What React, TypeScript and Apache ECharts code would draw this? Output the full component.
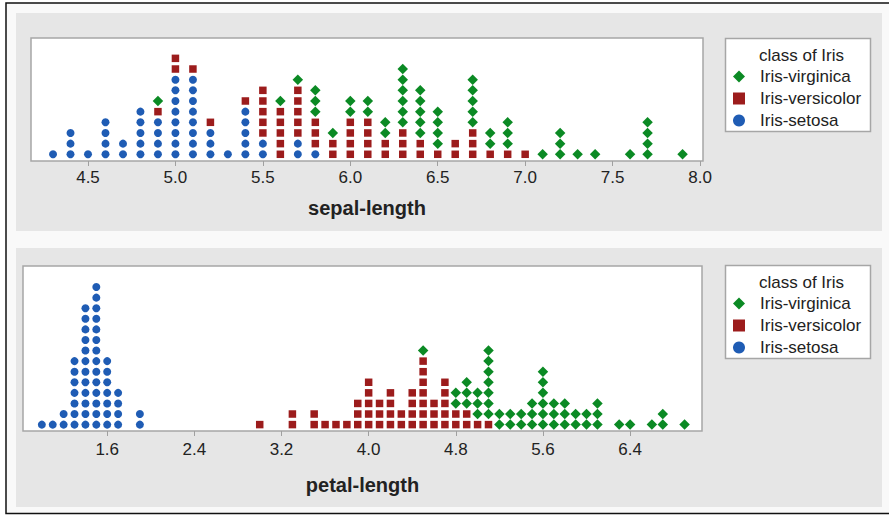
import React, { useEffect, useRef } from "react";
import * as echarts from "echarts";

// ---- data: Iris dot plots (value, count) per class ----
const classNames = ["Iris-setosa", "Iris-versicolor", "Iris-virginica"];
const legendOrder = ["Iris-virginica", "Iris-versicolor", "Iris-setosa"];
const legendTitle = "class of Iris";

const sepalSetosaX = [4.3, 4.4, 4.5, 4.6, 4.7, 4.8, 4.9, 5.0, 5.1, 5.2, 5.3, 5.4, 5.5, 5.7, 5.8];
const sepalSetosaN = [1, 3, 1, 4, 2, 5, 4, 8, 8, 3, 1, 5, 2, 2, 1];
const sepalVersicolorX = [4.9, 5.0, 5.1, 5.2, 5.4, 5.5, 5.6, 5.7, 5.8, 5.9, 6.0, 6.1, 6.2, 6.3, 6.4, 6.5, 6.6, 6.7, 6.8, 6.9, 7.0];
const sepalVersicolorN = [1, 2, 1, 1, 1, 5, 5, 5, 3, 2, 4, 4, 2, 3, 2, 1, 2, 3, 1, 1, 1];
const sepalVirginicaX = [4.9, 5.6, 5.7, 5.8, 5.9, 6.0, 6.1, 6.2, 6.3, 6.4, 6.5, 6.7, 6.8, 6.9, 7.1, 7.2, 7.3, 7.4, 7.6, 7.7, 7.9];
const sepalVirginicaN = [1, 1, 1, 3, 1, 2, 2, 2, 6, 5, 4, 5, 2, 3, 1, 3, 1, 1, 1, 4, 1];

const petalSetosaX = [1.0, 1.1, 1.2, 1.3, 1.4, 1.5, 1.6, 1.7, 1.9];
const petalSetosaN = [1, 1, 2, 7, 12, 14, 7, 4, 2];
const petalVersicolorX = [3.0, 3.3, 3.5, 3.6, 3.7, 3.8, 3.9, 4.0, 4.1, 4.2, 4.3, 4.4, 4.5, 4.6, 4.7, 4.8, 4.9, 5.0, 5.1];
const petalVersicolorN = [1, 2, 2, 1, 1, 1, 3, 5, 3, 4, 2, 4, 7, 3, 5, 2, 2, 1, 1];
const petalVirginicaX = [4.5, 4.8, 4.9, 5.0, 5.1, 5.2, 5.3, 5.4, 5.5, 5.6, 5.7, 5.8, 5.9, 6.0, 6.1, 6.3, 6.4, 6.6, 6.7, 6.9];
const petalVirginicaN = [1, 2, 3, 3, 7, 2, 2, 2, 3, 6, 3, 3, 2, 2, 3, 1, 1, 1, 2, 1];

const sepalTicks = [4.5, 5.0, 5.5, 6.0, 6.5, 7.0, 7.5, 8.0];
const petalTicks = [1.6, 2.4, 3.2, 4.0, 4.8, 5.6, 6.4];
const sepalName = "sepal-length";
const petalName = "petal-length";

const colors: Record<string, string> = {
  "Iris-setosa": "#1f5cb4",
  "Iris-versicolor": "#9c1c1c",
  "Iris-virginica": "#0b8a24",
};
const symbols: Record<string, string> = {
  "Iris-setosa": "circle",
  "Iris-versicolor": "rect",
  "Iris-virginica": "diamond",
};
const sizes: Record<string, number> = {
  "Iris-setosa": 8,
  "Iris-versicolor": 7.5,
  "Iris-virginica": 10.5,
};

const FONT = '"Liberation Sans", Arial, Helvetica, sans-serif';

function stackDots(groups: { xs: number[]; ns: number[] }[]) {
  const heights: Record<string, number> = {};
  return groups.map((g) => {
    const pts: number[][] = [];
    g.xs.forEach((x, i) => {
      const key = x.toFixed(1);
      for (let j = 0; j < g.ns[i]; j++) {
        heights[key] = (heights[key] || 0) + 1;
        pts.push([x, heights[key]]);
      }
    });
    return pts;
  });
}

export default function App() {
  const ref = useRef<HTMLDivElement>(null);
  useEffect(() => {
    if (!ref.current) return;
    const chart = echarts.init(ref.current, null, { renderer: "svg" });
    const sepalPts = stackDots([
      { xs: sepalSetosaX, ns: sepalSetosaN },
      { xs: sepalVersicolorX, ns: sepalVersicolorN },
      { xs: sepalVirginicaX, ns: sepalVirginicaN },
    ]);
    const petalPts = stackDots([
      { xs: petalSetosaX, ns: petalSetosaN },
      { xs: petalVersicolorX, ns: petalVersicolorN },
      { xs: petalVirginicaX, ns: petalVirginicaN },
    ]);

    const series: any[] = [];
    [sepalPts, petalPts].forEach((panel, p) => {
      panel.forEach((pts, c) => {
        const name = classNames[c];
        series.push({
          type: "scatter",
          name,
          xAxisIndex: p,
          yAxisIndex: p,
          data: pts,
          symbol: symbols[name],
          symbolSize: sizes[name],
          itemStyle: { color: colors[name], opacity: 1 },
          silent: true,
          emphasis: { disabled: true },
        });
      });
    });

    const axisCommon = (ticks: number[], name: string, gap: number, labelMargin: number) => ({
      type: "value",
      name,
      nameLocation: "middle",
      nameGap: gap,
      nameTextStyle: { fontFamily: FONT, fontWeight: "bold", fontSize: 20, color: "#222" },
      splitLine: { show: false },
      axisLine: { show: false },
      axisTick: {
        show: true,
        customValues: ticks,
        length: 5,
        lineStyle: { color: "#a0a0a0", width: 1 },
      },
      axisLabel: {
        customValues: ticks,
        formatter: (v: number) => v.toFixed(1),
        fontFamily: FONT,
        fontSize: 17,
        color: "#222",
        margin: labelMargin,
      },
    });

    const legendFor = (top: number) => ({
      orient: "vertical",
      left: 733,
      top,
      padding: 0,
      itemGap: 1,
      itemWidth: 12,
      itemHeight: 12,
      selectedMode: false,
      textStyle: {
        fontFamily: FONT,
        fontSize: 17,
        color: "#222",
        lineHeight: 21,
        padding: [0, 0, 0, 10],
      },
      data: legendOrder.map((n) => ({ name: n, icon: symbols[n] })),
    });

    const legendBox = (top: number) => [
      {
        type: "rect",
        shape: { x: 725.5, y: top + 0.5, width: 145, height: 93 },
        style: { fill: "#ffffff", stroke: "#a6a6a6", lineWidth: 1.5 },
        z: 0,
      },
      {
        type: "text",
        x: 759,
        y: top + 17,
        style: {
          text: legendTitle,
          fontFamily: FONT,
          fontSize: 17,
          fill: "#222",
          verticalAlign: "middle",
        },
        z: 1,
      },
    ];

    chart.setOption({
      animation: false,
      backgroundColor: "#ffffff",
      graphic: [
        {
          type: "rect",
          shape: { x: 6, y: 3, width: 890, height: 510.5 },
          style: { fill: "#f9f9f9", stroke: "#111", lineWidth: 1.5 },
          z: -10,
          silent: true,
        },
        {
          type: "rect",
          shape: { x: 16, y: 13, width: 866, height: 218 },
          style: { fill: "#e6e6e6" },
          z: -9,
          silent: true,
        },
        {
          type: "rect",
          shape: { x: 16, y: 248, width: 866, height: 259 },
          style: { fill: "#e6e6e6" },
          z: -9,
          silent: true,
        },
        ...legendBox(38),
        ...legendBox(265),
      ],
      grid: [
        {
          left: 31,
          top: 38,
          width: 672,
          height: 123,
          show: true,
          backgroundColor: "#ffffff",
          borderColor: "#a6a6a6",
          borderWidth: 1.5,
        },
        {
          left: 23,
          top: 266,
          width: 679,
          height: 165,
          show: true,
          backgroundColor: "#ffffff",
          borderColor: "#a6a6a6",
          borderWidth: 1.5,
        },
      ],
      xAxis: [
        { ...axisCommon(sepalTicks, sepalName, 37, 8), gridIndex: 0, min: 4.174, max: 8.017 },
        { ...axisCommon(petalTicks, petalName, 44, 10), gridIndex: 1, min: 0.827, max: 7.06 },
      ],
      yAxis: [
        { type: "value", gridIndex: 0, min: 0.37, max: 11.91, show: false },
        { type: "value", gridIndex: 1, min: 0.395, max: 15.99, show: false },
      ],
      legend: [legendFor(66), legendFor(293)],
      series,
    });
    return () => chart.dispose();
  }, []);
  return (
    <div
      ref={ref}
      style={{ position: "fixed", left: 0, top: 0, width: 889, height: 515 }}
    />
  );
}
